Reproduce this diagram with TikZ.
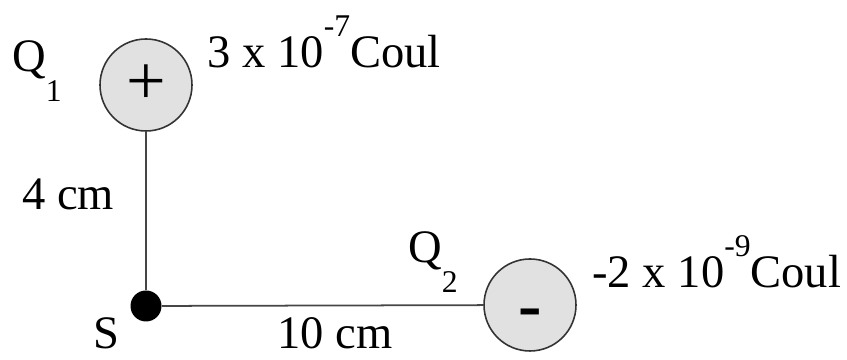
\documentclass[tikz,border=0pt]{standalone}
\usepackage{fontspec}
\setmainfont{Liberation Serif}
\usetikzlibrary{positioning}
\definecolor{chargefill}{RGB}{225,225,225}
\definecolor{wirecolor}{RGB}{70,70,70}
\newcommand{\qsub}[1]{\raisebox{-17pt}{\fontsize{18}{18}\selectfont #1}}
\newcommand{\qsup}[1]{\raisebox{18pt}{\fontsize{18}{18}\selectfont #1}}

\begin{document}
\begin{tikzpicture}[
    charge/.style={circle, draw=black!80, line width=0.9pt, fill=chargefill, minimum size=1.84cm, inner sep=0pt, font=\fontsize{40}{40}\selectfont},
    point/.style={circle, fill=black, minimum size=0.62cm, inner sep=0pt},
    txt/.style={inner sep=0pt, anchor=base west, font=\fontsize{26.5}{26.5}\selectfont},
    wire/.style={draw=wirecolor, line width=1pt}]

    \useasboundingbox (0,0) rectangle (16.94,7.2);

    % Nodes
    \node [charge] (q1) at (2.92,5.5) {+};
    \node [point] (s) at (2.92,1.08) {};
    \node [charge] (q2) at (10.6,1.1) {\raisebox{-4pt}{\textbf{-}}\vphantom{+}};

    % Labels
    \node [txt] (q1name) at (0.24,5.76) {Q\qsub{1}};
    \node [txt] (q1value) at (4.14,5.84) {3 x 10\qsup{-7}Coul};
    \node [txt] (dist1) at (0.44,3.0) {4 cm};
    \node [txt] (sname) at (1.86,0.22) {S};
    \node [txt] (dist2) at (5.54,0.22) {10 cm};
    \node [txt] (q2name) at (8.16,1.94) {Q\qsub{2}};
    \node [txt] (q2value) at (11.84,1.44) {-2 x 10\qsup{-9}Coul};

    % Lines
    \draw [wire] (s) -- (q1);
    \draw [wire] (s) -- (q2);

\end{tikzpicture}
\end{document}
